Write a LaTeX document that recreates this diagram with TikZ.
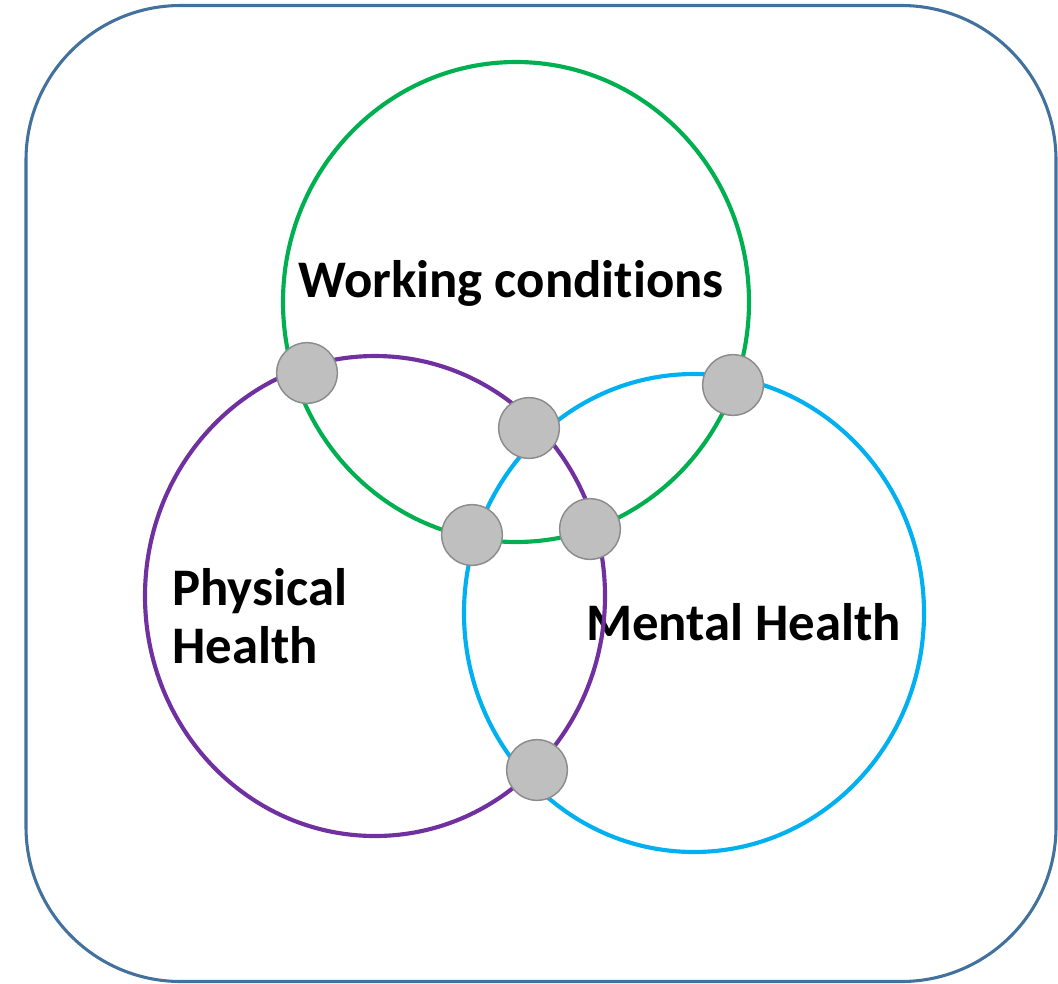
\documentclass[tikz,border=0pt]{standalone}
\usepackage{fontspec}
\setmainfont{Carlito}[Ligatures=NoCommon]
\usepackage{tikz}

\begin{document}
\begin{tikzpicture}[x=0.75pt,y=0.75pt,yscale=-1,xscale=1,
    ring/.style={line width=3.1pt},
    dot/.style={circle,draw={rgb, 255:red, 140; green, 140; blue, 140 },fill={rgb, 255:red, 191; green, 191; blue, 191 },line width=1.1pt,minimum size=45.5pt,inner sep=0pt},
    lbl/.style={font=\bfseries\fontsize{39.6}{43.5}\selectfont,inner sep=0pt}]
        \path [use as bounding box] (0,0) rectangle (1058,983);

        %Rounded Rect
        \draw [color={rgb, 255:red, 65; green, 113; blue, 156 }  ,line width=2.3pt ,rounded corners=116pt] (26,5.5) rectangle (1056,981.5) ;

        % Text Node
        \node [lbl,anchor=base] (work) at (511,297) {Working conditions};
        % Text Node
        \node [lbl,anchor=base west,align=left] (phys) at (172,663) {Physical\\Health};
        % Text Node
        \node [lbl,anchor=base west] (ment) at (586,640) {Mental Health};

        %Shape: Ellipse (working conditions)
        \draw [ring,color={rgb, 255:red, 0; green, 176; blue, 80 }  ] (516,302) ellipse [x radius=233, y radius=240] ;
        %Shape: Ellipse (physical health)
        \draw [ring,color={rgb, 255:red, 112; green, 48; blue, 160 }  ] (375,596) ellipse [x radius=230, y radius=240] ;
        %Shape: Ellipse (mental health)
        \draw [ring,color={rgb, 255:red, 0; green, 176; blue, 240 }  ] (694,613) ellipse [x radius=230, y radius=239] ;

        %Shape: Circle (crossings)
        \node [dot] (wp) at (307,373) {};
        \node [dot] (wm) at (733,385) {};
        \node [dot] (pm) at (529,428) {};
        \node [dot] (wmi) at (472,535) {};
        \node [dot] (wpi) at (590,529) {};
        \node [dot] (pmb) at (537,770) {};

\end{tikzpicture}
\end{document}
